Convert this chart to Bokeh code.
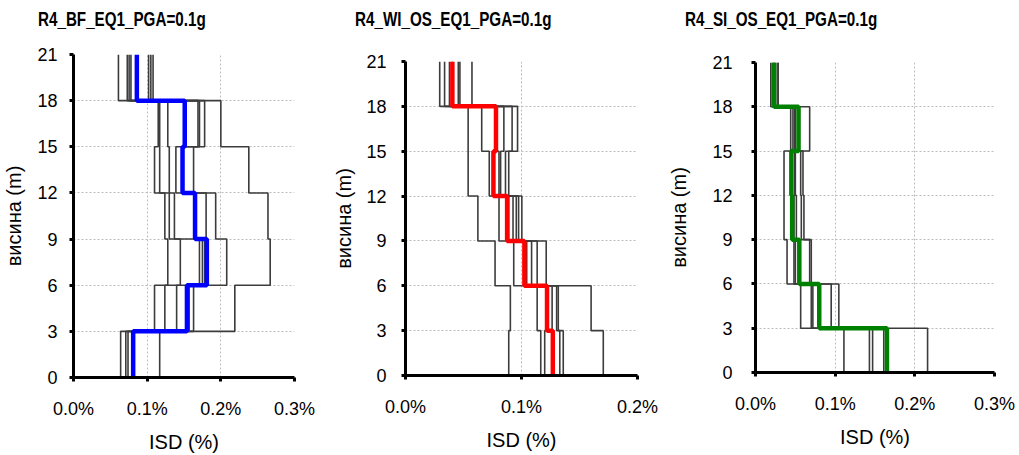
from bokeh.plotting import figure
from bokeh.layouts import column
from bokeh.models import Range1d, FixedTicker, PrintfTickFormatter, Div
from bokeh.embed import file_html
from bokeh.resources import INLINE

# storey levels (m)
floors = [0, 3, 6, 9, 12, 15, 18, 21]
y_ticks = [0, 3, 6, 9, 12, 15, 18, 21]

titles = ["R4_BF_EQ1_PGA=0.1g", "R4_WI_OS_EQ1_PGA=0.1g", "R4_SI_OS_EQ1_PGA=0.1g"]
x_label = "ISD (%)"
y_label = "висина (m)"

# ISD (%) per storey (storey 1..7), one list per record
bf_records = [
    [0.117, 0.219, 0.267, 0.264, 0.238, 0.200, 0.061],
    [0.064, 0.110, 0.145, 0.137, 0.110, 0.115, 0.073],
    [0.071, 0.124, 0.128, 0.124, 0.117, 0.117, 0.0755],
    [0.074, 0.140, 0.171, 0.130, 0.130, 0.128, 0.078],
    [0.080, 0.155, 0.175, 0.164, 0.139, 0.169, 0.102],
    [0.081, 0.157, 0.178, 0.180, 0.148, 0.171, 0.105],
    [0.082, 0.163, 0.208, 0.193, 0.163, 0.178, 0.108],
]
bf_mean = [0.081, 0.154, 0.181, 0.165, 0.148, 0.151, 0.086]

wi_records = [
    [0.1705, 0.160, 0.1213, 0.1003, 0.089, 0.0966, 0.0404],
    [0.089, 0.0904, 0.0772, 0.0624, 0.054, 0.054, 0.0573],
    [0.1166, 0.1135, 0.0933, 0.0806, 0.0722, 0.0657, 0.0295],
    [0.120, 0.1228, 0.1031, 0.089, 0.0764, 0.0772, 0.0337],
    [0.127, 0.1264, 0.1045, 0.0927, 0.0806, 0.079, 0.0379],
    [0.133, 0.1303, 0.1087, 0.0955, 0.082, 0.0848, 0.0455],
    [0.136, 0.1317, 0.1135, 0.0975, 0.0862, 0.0919, 0.0469],
]
wi_mean = [0.127, 0.122, 0.1025, 0.0876, 0.0758, 0.078, 0.0404]

si_records = [
    [0.216, 0.0567, 0.0396, 0.0358, 0.0358, 0.068, 0.0192],
    [0.111, 0.1046, 0.070, 0.0608, 0.0596, 0.055, 0.0283],
    [0.143, 0.070, 0.0483, 0.045, 0.0442, 0.0442, 0.0213],
    [0.147, 0.072, 0.050, 0.046, 0.045, 0.047, 0.0233],
    [0.161, 0.0783, 0.054, 0.0483, 0.049, 0.049, 0.0233],
    [0.165, 0.080, 0.055, 0.0513, 0.050, 0.050, 0.0254],
    [0.165, 0.095, 0.068, 0.0575, 0.0567, 0.054, 0.0283],
]
si_mean = [0.165, 0.080, 0.055, 0.046, 0.045, 0.054, 0.0233]

x_ticks_bf = [0.0, 0.1, 0.2, 0.3]
x_ticks_wi = [0.0, 0.1, 0.2]
x_ticks_si = [0.0, 0.1, 0.2, 0.3]

FONT = "Liberation Sans"
TITLE_H = 36


def steps(vals):
    xs, ys = [], []
    for i, v in enumerate(vals):
        xs += [v, v]
        ys += [floors[i], floors[i + 1]]
    return xs, ys


def panel(title, records, mean, color, xticks, width, bl, br, bt, bb,
          title_left, ylab_standoff, ytick_standoff):
    head = Div(text=('<span style="display:inline-block;transform:scaleX(0.76);'
                     f'transform-origin:0 0;">{title}</span>'),
               width=width, height=TITLE_H, margin=0,
               styles={"font-family": FONT, "font-weight": "bold", "font-size": "20px",
                       "color": "black", "padding-left": f"{title_left}px",
                       "padding-top": "8px", "line-height": "23px",
                       "white-space": "nowrap", "box-sizing": "border-box"})
    p = figure(width=width, height=455 - TITLE_H, output_backend="svg", toolbar_location=None,
               x_range=Range1d(xticks[0], xticks[-1]), y_range=Range1d(0, 21),
               min_border_left=bl, min_border_right=br, min_border_top=bt - TITLE_H,
               min_border_bottom=bb, margin=0)
    p.outline_line_color = None
    p.background_fill_color = "white"
    p.border_fill_color = "white"

    for rec in records:
        xs, ys = steps(rec)
        p.line(xs, ys, line_color="#3c3c3c", line_width=1.6)
    xs, ys = steps(mean)
    p.line(xs, ys, line_color=color, line_width=4.5)

    p.xaxis.ticker = FixedTicker(ticks=xticks)
    p.yaxis.ticker = FixedTicker(ticks=y_ticks)
    p.xaxis.formatter = PrintfTickFormatter(format="%.1f%%")
    for ax in (p.xaxis, p.yaxis):
        ax.axis_line_width = 3
        ax.axis_line_color = "black"
        ax.major_tick_line_width = 3
        ax.major_tick_line_color = "black"
        ax.major_tick_out = 4
        ax.major_tick_in = 0
        ax.minor_tick_line_color = None
        ax.major_label_text_font = FONT
        ax.major_label_text_font_size = "18px"
        ax.major_label_text_color = "black"
        ax.axis_label_text_font = FONT
        ax.axis_label_text_font_size = "20px"
        ax.axis_label_text_font_style = "normal"
        ax.axis_label_text_color = "black"
    p.xaxis.axis_label = x_label
    p.yaxis.axis_label = y_label
    p.xaxis.major_label_standoff = 17
    p.xaxis.axis_label_standoff = 9
    p.yaxis.major_label_standoff = ytick_standoff
    p.yaxis.axis_label_standoff = ylab_standoff
    for g in (p.xgrid, p.ygrid):
        g.grid_line_color = "#bdbdbd"
        g.grid_line_dash = "2 2"
        g.grid_line_width = 1
    return column(head, p, width=width, height=455, margin=0, spacing=0)


p1 = panel(titles[0], bf_records, bf_mean, "#0000ff", x_ticks_bf, 330, 71, 36, 54, 78, 38, 9, 12)
p2 = panel(titles[1], wi_records, wi_mean, "#ff0000", x_ticks_wi, 335, 69, 28, 61, 80, 25, 8, 15)
p3 = panel(titles[2], si_records, si_mean, "#008000", x_ticks_si, 354, 89, 25, 62, 83, 20, 19, 19)

page_style = ("{% block preamble %}<style>body{margin:0 !important;display:flex !important;"
              "flex-direction:row !important;align-items:flex-start !important;}</style>{% endblock %}")

open("out.html", "w").write(file_html([p1, p2, p3], INLINE, template=page_style))
